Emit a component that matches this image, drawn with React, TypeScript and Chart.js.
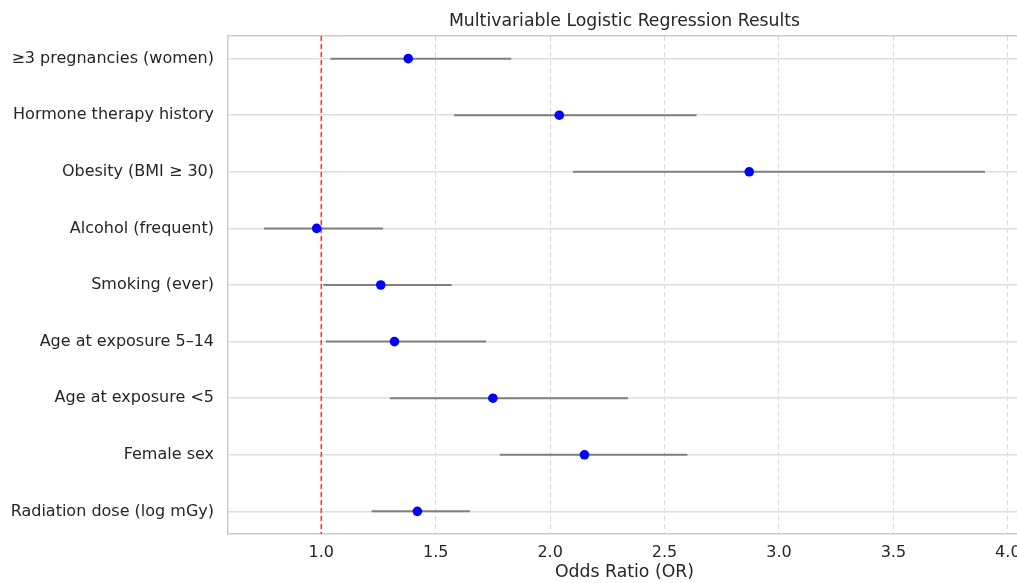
import React, { useEffect, useRef } from "react";
import { Chart, registerables } from "chart.js";

Chart.register(...registerables);

const categories = [
  "≥3 pregnancies (women)",
  "Hormone therapy history",
  "Obesity (BMI ≥ 30)",
  "Alcohol (frequent)",
  "Smoking (ever)",
  "Age at exposure 5–14",
  "Age at exposure <5",
  "Female sex",
  "Radiation dose (log mGy)",
];
const oddsRatios = [1.38, 2.04, 2.87, 0.98, 1.26, 1.32, 1.75, 2.15, 1.42];
const ciLower = [1.04, 1.58, 2.1, 0.75, 1.01, 1.02, 1.3, 1.78, 1.22];
const ciUpper = [1.83, 2.64, 3.9, 1.27, 1.57, 1.72, 2.34, 2.6, 1.65];
const referenceOR = 1.0;
const xTicks = [1.0, 1.5, 2.0, 2.5, 3.0, 3.5, 4.0];

const FONT = "'DejaVu Sans', sans-serif";
const TEXT = "#262626";

export default function App() {
  const ref = useRef<HTMLCanvasElement | null>(null);

  useEffect(() => {
    if (!ref.current) return;
    const yMin = -0.4;
    const yMax = categories.length - 1 + 0.4;
    const lo = Math.min(...ciLower);
    const hi = Math.max(...ciUpper);
    const xMin = lo - (hi - lo) * 0.05;
    const xMax = hi + (hi - lo) * 0.05;

    const ciSets = categories.map((c, i) => ({
      type: "line" as const,
      label: c,
      data: [
        { x: ciLower[i], y: i },
        { x: ciUpper[i], y: i },
      ],
      borderColor: "#808080",
      borderWidth: 2,
      pointRadius: 0,
      showLine: true,
      order: 1,
    }));

    const chart = new Chart(ref.current, {
      type: "scatter",
      data: {
        datasets: [
          {
            type: "scatter",
            label: "OR",
            data: oddsRatios.map((v, i) => ({ x: v, y: i })),
            backgroundColor: "#0000ff",
            borderColor: "#0000ff",
            pointRadius: 4.8,
            pointBorderWidth: 0,
            order: 0,
          } as any,
          ...ciSets,
          {
            type: "line",
            label: "ref",
            data: [
              { x: referenceOR, y: yMin },
              { x: referenceOR, y: yMax },
            ],
            borderColor: "rgba(255,30,30,0.85)",
            borderWidth: 1.6,
            borderDash: [5, 3],
            pointRadius: 0,
            showLine: true,
            order: 0,
          } as any,
        ],
      },
      options: {
        responsive: false,
        animation: false,
        layout: { padding: { left: 0, right: 9, top: 0, bottom: 0 } },
        plugins: {
          legend: { display: false },
          tooltip: { enabled: false },
          title: { display: false },
        },
        scales: {
          x: {
            type: "linear",
            position: "bottom",
            min: xMin,
            max: xMax,
            afterBuildTicks: (s: any) => {
              s.ticks = xTicks.map((v) => ({ value: v }));
            },
            afterFit: (s: any) => {
              s.height = 49;
            },
            ticks: {
              callback: (v: any) => Number(v).toFixed(1),
              font: { family: FONT, size: 16 },
              color: TEXT,
              padding: 9,
            },
            grid: {
              color: "#d9d9d9",
              lineWidth: 1,
              drawTicks: false,
            },
            border: { display: true, color: "#cccccc", width: 1.5, dash: [5, 3] },
            title: {
              display: true,
              text: "Odds Ratio (OR)",
              font: { family: FONT, size: 17.3 },
              color: TEXT,
              padding: { top: 0, bottom: 0 },
            },
          },
          xTop: {
            type: "linear",
            position: "top",
            min: xMin,
            max: xMax,
            afterFit: (s: any) => {
              s.height = 36;
            },
            ticks: { display: false },
            grid: { display: false, drawTicks: false },
            border: { display: true, color: "#cccccc", width: 1.5 },
            title: {
              display: true,
              text: "Multivariable Logistic Regression Results",
              font: { family: FONT, size: 17.3 },
              color: TEXT,
              padding: { top: 11, bottom: 0 },
            },
          },
          y: {
            type: "linear",
            reverse: true,
            min: yMin,
            max: yMax,
            afterBuildTicks: (s: any) => {
              s.ticks = categories.map((_, i) => ({ value: i }));
            },
            afterFit: (s: any) => {
              s.width = 228;
            },
            ticks: {
              autoSkip: false,
              callback: (v: any) => categories[Number(v)] ?? "",
              font: { family: FONT, size: 16 },
              color: TEXT,
              padding: 14,
            },
            grid: { color: "#dedede", lineWidth: 1.5, drawTicks: false },
            border: { display: true, color: "#cccccc", width: 1.5 },
          },
        },
      } as any,
    });
    return () => chart.destroy();
  }, []);

  return (
    <div
      style={{
        position: "fixed",
        left: 0,
        top: 0,
        width: 1017,
        height: 583,
        overflow: "hidden",
        background: "#ffffff",
      }}
    >
      <canvas ref={ref} width={1030} height={583} style={{ display: "block" }} />
    </div>
  );
}
